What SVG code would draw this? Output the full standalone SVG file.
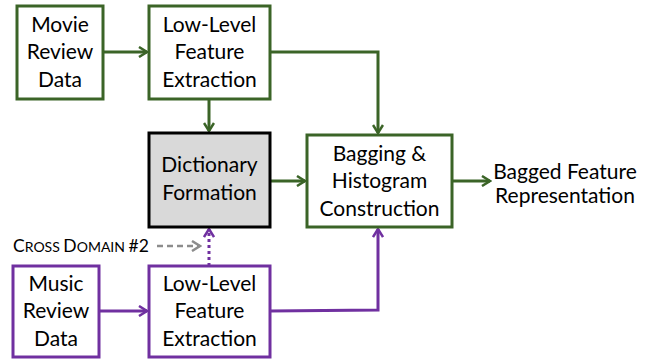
<svg xmlns="http://www.w3.org/2000/svg" width="653" height="360" viewBox="0 0 653 360">
<defs>
<style>
.t{font-family:Lato,"Open Sans","Liberation Sans",sans-serif;font-size:21px;fill:#000;text-anchor:middle}
.g{fill:#fff;stroke:#3b6427;stroke-width:3}
.p{fill:#fff;stroke:#7030a0;stroke-width:3}
.cg{fill:none;stroke:#3b6427;stroke-width:3}
.cp{fill:none;stroke:#7030a0;stroke-width:3}
</style>
<marker id="ag" viewBox="0 0 12 12" refX="10" refY="6" markerWidth="12" markerHeight="12" markerUnits="userSpaceOnUse" orient="auto"><path d="M2,1 L10,6 L2,11" fill="none" stroke="#3b6427" stroke-width="2.5"/></marker>
<marker id="ap" viewBox="0 0 12 12" refX="10" refY="6" markerWidth="12" markerHeight="12" markerUnits="userSpaceOnUse" orient="auto"><path d="M2,1 L10,6 L2,11" fill="none" stroke="#7030a0" stroke-width="2.5"/></marker>
<marker id="ay" viewBox="0 0 12 12" refX="10" refY="6" markerWidth="12" markerHeight="12" markerUnits="userSpaceOnUse" orient="auto"><path d="M2,1 L10,6 L2,11" fill="none" stroke="#8c8c8c" stroke-width="2.5"/></marker>
</defs>
<rect width="653" height="360" fill="#fff"/>
<g id="connectors">
<line class="cg" x1="103" y1="52" x2="147" y2="52" marker-end="url(#ag)"/>
<polyline class="cg" points="270,52 378,52 378,133" marker-end="url(#ag)"/>
<line class="cg" x1="209" y1="99" x2="209" y2="131" marker-end="url(#ag)"/>
<line class="cg" x1="270" y1="181" x2="305" y2="181" marker-end="url(#ag)"/>
<line class="cg" x1="452" y1="181" x2="490" y2="181" marker-end="url(#ag)"/>
<line class="cp" x1="99" y1="311" x2="147" y2="311" marker-end="url(#ap)"/>
<polyline class="cp" points="270,311 378,310 378,229" marker-end="url(#ap)"/>
<line class="cp" x1="209" y1="266" x2="209" y2="229" stroke-dasharray="3,3" marker-end="url(#ap)"/>
<line x1="157" y1="246" x2="200" y2="246" stroke="#8c8c8c" stroke-width="2.5" stroke-dasharray="6,4" fill="none" marker-end="url(#ay)"/>
</g>
<g id="movie">
<rect class="g" x="17" y="6" width="86" height="93"/>
<text class="t" x="60" y="32">Movie</text>
<text class="t" x="60" y="59">Review</text>
<text class="t" x="60" y="87">Data</text>
</g>
<g id="lowlevel1">
<rect class="g" x="149" y="6" width="121" height="93"/>
<text class="t" x="209.5" y="32">Low-Level</text>
<text class="t" x="209.5" y="59">Feature</text>
<text class="t" x="209.5" y="87">Extraction</text>
</g>
<g id="dictionary">
<rect x="149" y="133" width="121" height="94" fill="#d9d9d9" stroke="#000" stroke-width="3"/>
<text class="t" x="209.5" y="172">Dictionary</text>
<text class="t" x="209.5" y="200">Formation</text>
</g>
<g id="bagging">
<rect class="g" x="307" y="135" width="145" height="92"/>
<text class="t" x="379.5" y="161">Bagging &amp;</text>
<text class="t" x="379.5" y="188">Histogram</text>
<text class="t" x="379.5" y="216">Construction</text>
</g>
<g id="output">
<text class="t" x="565" y="179">Bagged Feature</text>
<text class="t" x="565" y="203">Representation</text>
</g>
<g id="crossdomain">
<text x="13" y="252" font-family="Lato,'Open Sans','Liberation Sans',sans-serif" font-size="17.5" fill="#000"><tspan>C</tspan><tspan font-size="14">ROSS </tspan><tspan>D</tspan><tspan font-size="14">OMAIN </tspan><tspan>#2</tspan></text>
</g>
<g id="music">
<rect class="p" x="13" y="266" width="86" height="91"/>
<text class="t" x="56" y="291">Music</text>
<text class="t" x="56" y="318">Review</text>
<text class="t" x="56" y="346">Data</text>
</g>
<g id="lowlevel2">
<rect class="p" x="149" y="266" width="121" height="91"/>
<text class="t" x="209.5" y="291">Low-Level</text>
<text class="t" x="209.5" y="318">Feature</text>
<text class="t" x="209.5" y="346">Extraction</text>
</g>
</svg>
